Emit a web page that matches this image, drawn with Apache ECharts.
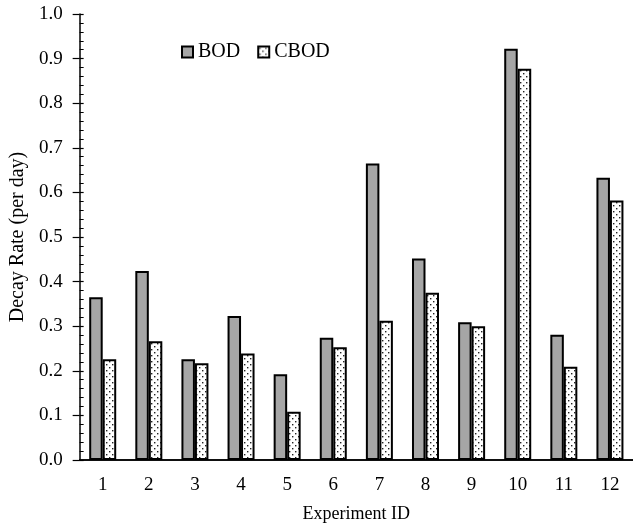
<!DOCTYPE html>
<html><head><meta charset="utf-8">
<script src="https://cdn.jsdelivr.net/npm/echarts@6/dist/echarts.min.js"></script>
<style>html,body{margin:0;padding:0;background:#fff}#c{width:633px;height:530px}</style>
</head><body><div id="c"></div>
<script>
var categories = ['1','2','3','4','5','6','7','8','9','10','11','12'];
var bodValues  = [0.365,0.424,0.226,0.323,0.192,0.274,0.665,0.452,0.309,0.922,0.281,0.633];
var cbodValues = [0.226,0.266,0.217,0.239,0.108,0.253,0.312,0.375,0.300,0.877,0.209,0.582];
var yTicks = [0,0.1,0.2,0.3,0.4,0.5,0.6,0.7,0.8,0.9,1.0];

var pc = document.createElement('canvas');
pc.width = 6; pc.height = 6;
var g = pc.getContext('2d');
g.fillStyle = '#fff'; g.fillRect(0,0,6,6);
g.fillStyle = '#222';
g.fillRect(1,1,1.4,1.4);
g.fillRect(4,4,1.4,1.4);

var font = 'Liberation Serif';
var chart = echarts.init(document.getElementById('c'));
chart.setOption({
  animation:false,
  textStyle:{fontFamily:font},
  grid:{left:79,right:0,top:14,bottom:70},
  legend:{
    left:176, top:37, itemWidth:11, itemHeight:11, itemGap:17, icon:'rect',
    textStyle:{fontFamily:font,fontSize:20,color:'#000'},
    itemStyle:{borderWidth:2,borderColor:'#000'},
    data:['BOD','CBOD']
  },
  xAxis:[{
    type:'category', data:categories,
    axisLine:{lineStyle:{color:'#000',width:1.5}},
    axisTick:{show:false},
    axisLabel:{color:'#000',fontSize:19,fontFamily:font,margin:16},
    name:'Experiment ID', nameLocation:'middle', nameGap:45,
    nameTextStyle:{color:'#000',fontSize:18,fontFamily:font}
  },{
    type:'category', data:categories, position:'top',
    axisLine:{lineStyle:{color:'#000',width:1.5}},
    axisTick:{show:false}, axisLabel:{show:false}
  }],
  yAxis:[{
    type:'value', min:0, max:1, interval:0.1,
    axisLine:{show:true,lineStyle:{color:'#000',width:1.5}},
    axisTick:{show:true,inside:false,length:7,lineStyle:{color:'#000',width:1.2}},
    splitLine:{show:false},
    axisLabel:{color:'#000',fontSize:19,fontFamily:font,margin:17,
      formatter:function(v){return v.toFixed(1);}},
    name:'Decay Rate (per day)', nameLocation:'middle', nameGap:51,
    nameTextStyle:{color:'#000',fontSize:20,fontFamily:font}
  },{
    type:'value', min:0, max:1, interval:0.1, position:'left',
    axisLine:{show:false},
    axisTick:{show:true,inside:true,length:4,lineStyle:{color:'#000',width:1.2}},
    minorTick:{show:true,splitNumber:5,length:4,lineStyle:{color:'#000',width:1}},
    splitLine:{show:false}, axisLabel:{show:false}
  }],
  series:[{
    name:'BOD', type:'bar', data:bodValues, barWidth:13.5, barGap:'0%',
    itemStyle:{color:'#a6a6a6',borderColor:'#000',borderWidth:2}
  },{
    name:'CBOD', type:'bar', data:cbodValues, barWidth:13.5, barGap:'0%',
    itemStyle:{color:{image:pc,repeat:'repeat'},borderColor:'#000',borderWidth:2}
  }]
});
</script></body></html>
